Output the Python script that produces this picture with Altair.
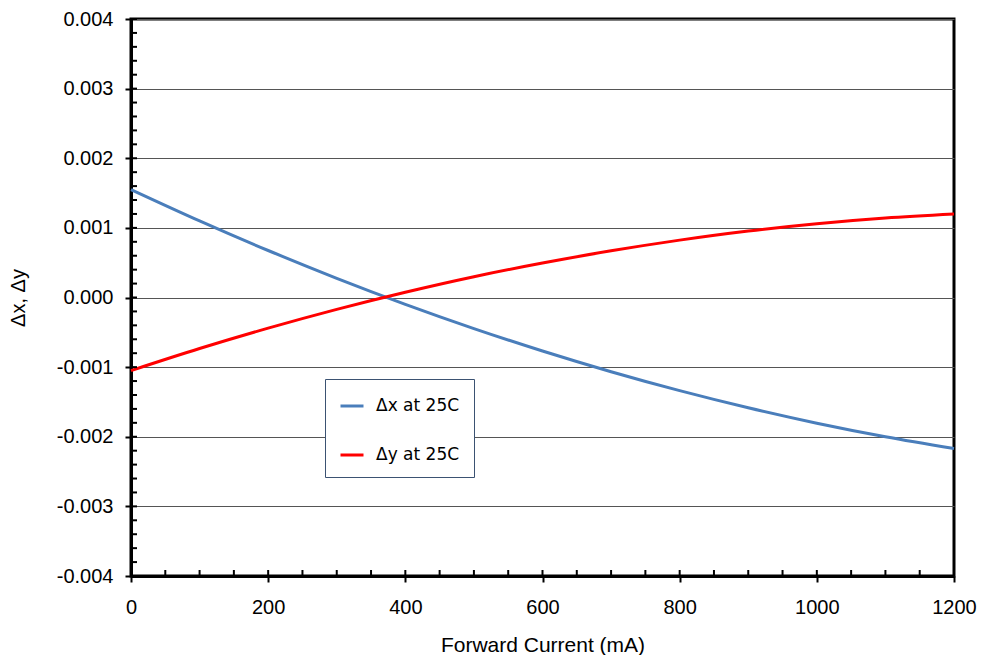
import altair as alt
import pandas as pd

current_ma = [0, 100, 200, 300, 400, 500, 600, 700, 800, 900, 1000, 1100, 1200]
delta_x = [0.00155, 0.00110, 0.000675, 0.000276, -0.000098, -0.000446, -0.000769,
           -0.001066, -0.001338, -0.001584, -0.001805, -0.002000, -0.002170]
delta_y = [-0.00105, -0.000733, -0.000440, -0.000170, 0.000076, 0.000299, 0.000495,
           0.000670, 0.000824, 0.000955, 0.001060, 0.001142, 0.001200]
series_names = ["Δx at 25C", "Δy at 25C"]
series_colors = ["#4a7ebb", "#ff0000"]

y_major = [-0.004, -0.003, -0.002, -0.001, 0.0, 0.001, 0.002, 0.003, 0.004]
y_minor = [round(-0.004 + 0.0002 * i, 4) for i in range(41)]
x_major = [0, 200, 400, 600, 800, 1000, 1200]
x_minor = [50 * i for i in range(25)]

W, H = 823, 557

rows = []
for c, dx, dy in zip(current_ma, delta_x, delta_y):
    rows.append({"current": c, "value": dx, "series": series_names[0]})
    rows.append({"current": c, "value": dy, "series": series_names[1]})
df = pd.DataFrame(rows)

xscale = alt.Scale(domain=[0, 1200], nice=False, zero=False)
yscale = alt.Scale(domain=[-0.004, 0.004], nice=False, zero=False)

lines = alt.Chart(df).mark_line(strokeWidth=3, interpolate="monotone").encode(
    x=alt.X("current:Q", scale=xscale,
            axis=alt.Axis(title="Forward Current (mA)", values=x_major, grid=False,
                          format="d", labelFlush=False,
                          labelFontSize=20, titleFontSize=21, labelPadding=15,
                          titlePadding=17, labelFont="Liberation Sans",
                          titleFont="Liberation Sans", titleFontWeight="normal",
                          domainColor="black", domainWidth=3, tickColor="black",
                          tickWidth=2, tickSize=6, labelColor="black", titleColor="black")),
    y=alt.Y("value:Q", scale=yscale,
            axis=alt.Axis(title="Δx, Δy", values=y_major,
                          labelExpr="replace(format(datum.value, '.3f'), '−', '-')",
                          grid=True, gridColor="#555555", gridWidth=1,
                          labelFontSize=20, titleFontSize=20, labelPadding=12,
                          titlePadding=28, labelFont="Liberation Sans",
                          titleFont="Liberation Sans", titleFontWeight="normal",
                          domainColor="black", domainWidth=3, tickColor="black",
                          tickWidth=2, tickSize=6, labelColor="black", titleColor="black")),
    color=alt.Color("series:N",
                    scale=alt.Scale(domain=series_names, range=series_colors),
                    legend=alt.Legend(title=None, orient="none", legendX=194, legendY=360,
                                      symbolType="stroke", symbolSize=529,
                                      symbolStrokeWidth=3, labelFontSize=17,
                                      labelFont="DejaVu Sans", labelColor="black",
                                      labelOffset=11, rowPadding=28, padding=14,
                                      fillColor="white", strokeColor="#3b5272")),
)

ytick_df = pd.DataFrame({"v": y_minor})
ytick = alt.Chart(ytick_df).mark_rule(color="black", strokeWidth=2).encode(
    y=alt.Y("v:Q", scale=yscale),
    x=alt.value(0), x2=alt.value(6),
)
xtick_df = pd.DataFrame({"c": x_minor})
xtick = alt.Chart(xtick_df).mark_rule(color="black", strokeWidth=2).encode(
    x=alt.X("c:Q", scale=xscale),
    y=alt.value(H - 6), y2=alt.value(H),
)

chart = alt.layer(lines, ytick, xtick).properties(
    width=W, height=H,
    background="white",
    autosize=alt.AutoSizeParams(type="none"),
    padding={"left": 123, "top": 11, "right": 24, "bottom": 79},
).configure_view(stroke="black", strokeWidth=3)

chart.save("out.html", embed_options={"renderer": "svg", "actions": False})
